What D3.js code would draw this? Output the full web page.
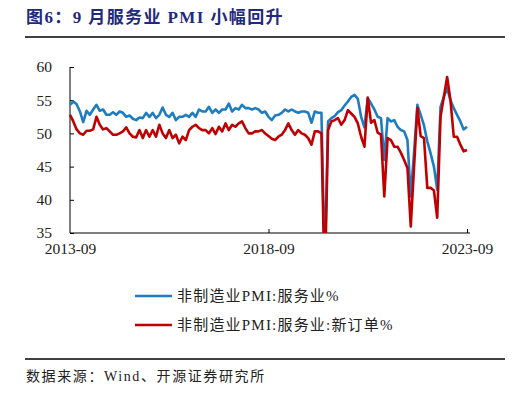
<!DOCTYPE html>
<html>
<head>
<meta charset="utf-8">
<script src="https://cdn.jsdelivr.net/npm/d3@7"></script>
<style>
  body { margin: 0; background: #fff; }
  svg { display: block; }
</style>
</head>
<body>
<div id="chart"></div>
<script>
// monthly data, 2013-09 .. 2023-09 (121 points)
const tickLabels = ["2013-09", "2018-09", "2023-09"];
const tickIndex = [0, 60, 120];
const seriesNames = ["非制造业PMI:服务业%", "非制造业PMI:服务业:新订单%"];

const services = [
  54.3, 54.8, 54.4, 53.3, 51.7, 53.4, 52.8, 53.6, 54.3, 53.4,
  53.6, 52.8, 52.8, 53.2, 52.8, 53.3, 53.1, 52.5, 52.7, 52.2,
  52.0, 52.4, 52.3, 53.1, 52.5, 53.1, 52.3, 52.8, 53.9, 52.8,
  52.5, 53.1, 52.0, 52.5, 52.5, 52.8, 52.5, 53.1, 52.5, 53.6,
  53.3, 53.3, 54.0, 53.1, 53.6, 53.1, 53.6, 53.6, 54.5, 53.3,
  53.8, 53.6, 54.3, 53.8, 53.8, 53.6, 53.8, 53.6, 53.1, 53.3,
  52.5, 52.0, 52.7, 52.8, 53.1, 53.6, 53.3, 53.6, 53.3, 53.1,
  53.3, 53.3, 53.1, 51.6, 53.3, 53.1, 53.1, 30.1, 51.8, 52.3,
  52.6, 53.2, 53.5, 54.2, 54.8, 55.5, 55.8, 55.2, 52.5, 50.9,
  55.3, 54.5, 53.6, 52.5, 52.3, 46.0, 52.3, 51.8, 52.0, 51.0,
  50.5, 50.3, 49.0, 40.5, 47.2, 54.3, 52.8, 51.2, 48.8, 47.0,
  45.0, 41.5, 54.0, 55.5, 56.8, 55.0, 53.8, 52.8, 51.8, 50.6,
  51.0
];

const newOrders = [
  52.8, 51.8, 50.6, 50.0, 49.8, 50.4, 50.4, 50.6, 52.5, 51.3,
  50.6, 50.8, 50.3, 49.8, 49.8, 50.0, 50.3, 50.9, 50.0, 49.5,
  49.4, 50.5, 49.3, 50.5, 49.5, 50.5, 49.5, 51.3, 50.0, 49.3,
  50.5, 49.3, 49.8, 48.5, 49.5, 49.0, 50.5, 51.0, 51.3, 50.8,
  50.5, 50.5, 50.0, 50.8, 49.9, 51.0, 50.3, 51.5, 50.5, 51.3,
  51.0, 51.5, 51.8, 50.8, 50.0, 50.0, 50.3, 50.3, 50.5, 50.0,
  49.6, 49.2, 49.0, 49.5, 49.8, 50.5, 51.5, 50.5, 49.8, 50.5,
  50.0, 49.8, 49.3, 48.3, 50.3, 50.3, 50.0, 26.5, 50.5, 51.8,
  52.0, 52.3, 51.3, 52.0, 53.5, 53.0, 52.5, 51.5, 49.5, 48.0,
  55.4, 51.6, 52.0, 50.1, 49.8, 40.5, 49.3, 49.0, 48.0, 48.0,
  47.1, 46.0, 44.8, 36.0, 45.0, 53.8, 49.6, 49.3, 41.8, 41.8,
  41.4, 37.3, 52.5, 55.5, 58.5, 55.0, 49.5, 49.5, 48.3, 47.3,
  47.5
];

const yTicks = [35, 40, 45, 50, 55, 60];
const colors = ["#1f7cc1", "#c00000"];

const W = 520, H = 394;
const margin = {top: 67, right: 53, bottom: 161, left: 70};
const width = W - margin.left - margin.right,
      height = H - margin.top - margin.bottom;

const serif = "'Liberation Serif', 'Times New Roman', 'Noto Sans CJK SC', serif";

const svg = d3.select("#chart").append("svg")
  .attr("width", W).attr("height", H);

// title
svg.append("text")
  .attr("x", 26).attr("y", 23)
  .text("图6：9 月服务业 PMI 小幅回升")
  .style("font-family", "'Liberation Serif', 'Noto Sans CJK SC', serif")
  .style("font-weight", "bold")
  .style("font-size", "17px")
  .style("letter-spacing", "1.4px")
  .style("fill", "#1f2a7c");

svg.append("line")
  .attr("x1", 25).attr("x2", 505).attr("y1", 37).attr("y2", 37)
  .style("stroke", "#000").style("stroke-width", 1.5);

svg.append("line")
  .attr("x1", 25).attr("x2", 505).attr("y1", 359).attr("y2", 359)
  .style("stroke", "#000").style("stroke-width", 1.5);

svg.append("text")
  .attr("x", 26).attr("y", 381)
  .text("数据来源：Wind、开源证券研究所")
  .style("font-family", serif)
  .style("font-size", "14px")
  .style("letter-spacing", "1.6px")
  .style("fill", "#222");

const g = svg.append("g")
  .attr("transform", "translate(" + margin.left + "," + margin.top + ")");

const x = d3.scaleLinear().domain([0, 120]).range([0, width]);
const y = d3.scaleLinear().domain([35, 60]).range([height, 0]);

g.append("clipPath").attr("id", "plot")
  .append("rect").attr("x", -2).attr("y", -2).attr("width", width + 4).attr("height", height + 2);

// axes
const yAxis = g.append("g")
  .call(d3.axisLeft(y).tickValues(yTicks).tickSize(-4).tickPadding(18));
const xAxis = g.append("g")
  .attr("transform", "translate(0," + height + ")")
  .call(d3.axisBottom(x).tickValues(tickIndex).tickSize(-4).tickPadding(10)
    .tickFormat((d, i) => tickLabels[i]));

[yAxis, xAxis].forEach(a => {
  a.select(".domain").attr("d", null);
  a.selectAll("line").style("stroke", "#000");
  a.selectAll("text").style("font-family", serif).style("font-size", "15.5px").style("fill", "#222");
});
xAxis.select(".tick line").remove();
xAxis.append("line").attr("x1", 0).attr("x2", width + 3).style("stroke", "#000");
yAxis.append("line").attr("y1", 0).attr("y2", height).style("stroke", "#000");

// lines
const line = d3.line().x((d, i) => x(i)).y(d => y(d));
[services, newOrders].forEach((s, k) => {
  g.append("path")
    .datum(s)
    .attr("clip-path", "url(#plot)")
    .attr("d", line)
    .style("fill", "none")
    .style("stroke", colors[k])
    .style("stroke-width", 2.6)
    .style("stroke-linejoin", "round");
});

// legend
seriesNames.forEach((n, k) => {
  const ly = 296 + k * 29;
  svg.append("line")
    .attr("x1", 135).attr("x2", 172).attr("y1", ly).attr("y2", ly)
    .style("stroke", colors[k]).style("stroke-width", 2.6);
  svg.append("text")
    .attr("x", 177).attr("y", ly + 5)
    .text(n)
    .style("font-family", serif)
    .style("font-size", "15px")
    .style("letter-spacing", "1.2px")
    .style("fill", "#222");
});
</script>
</body>
</html>
